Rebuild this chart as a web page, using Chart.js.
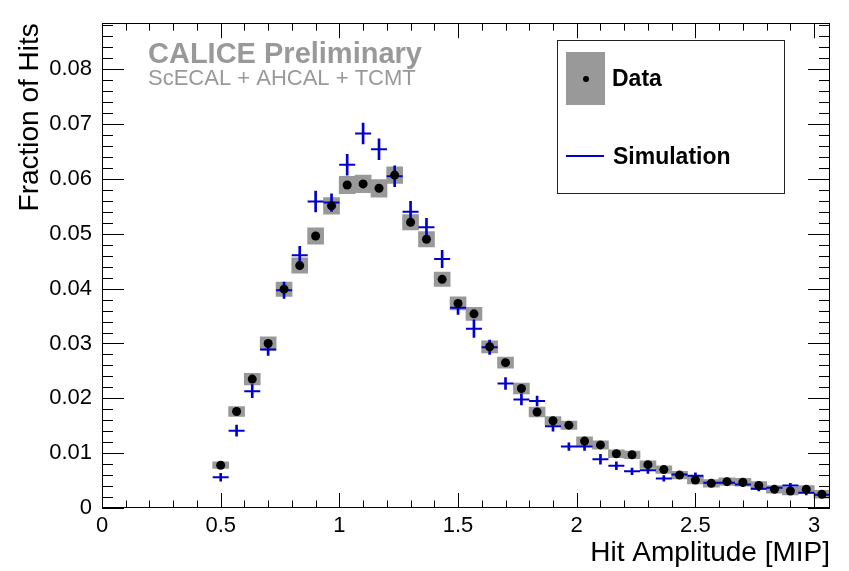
<!DOCTYPE html>
<html>
<head>
<meta charset="utf-8">
<script src="https://cdn.jsdelivr.net/npm/chart.js@4.4.1/dist/chart.umd.min.js"></script>
<style>
  html, body { margin: 0; padding: 0; background: #fff; }
  #wrap { width: 849px; height: 571px; }
</style>
</head>
<body>
<div id="wrap"><canvas id="hitChart" width="849" height="571"></canvas></div>
<script>
// bin centres (MIP), bin width 1/15
const binCenters = [0.5, 0.567, 0.633, 0.7, 0.767, 0.833, 0.9, 0.967, 1.033, 1.1,
  1.167, 1.233, 1.3, 1.367, 1.433, 1.5, 1.567, 1.633, 1.7, 1.767,
  1.833, 1.9, 1.967, 2.033, 2.1, 2.167, 2.233, 2.3, 2.367, 2.433,
  2.5, 2.567, 2.633, 2.7, 2.767, 2.833, 2.9, 2.967, 3.033];

// Data (black points + grey error boxes)
const dataFrac = [0.0078, 0.0176, 0.0235, 0.0300, 0.0399, 0.0442, 0.0496, 0.0551, 0.0589, 0.0591,
  0.0583, 0.0607, 0.0521, 0.0490, 0.0417, 0.0373, 0.0354, 0.0294, 0.0265, 0.0218,
  0.0175, 0.0159, 0.0151, 0.0122, 0.0115, 0.0099, 0.0097, 0.0079, 0.0070, 0.0060,
  0.0051, 0.0045, 0.0048, 0.0047, 0.0041, 0.0034, 0.0031, 0.0034, 0.0025];
const dataErr = [0.0006, 0.0009, 0.00105, 0.0012, 0.0013, 0.0014, 0.0015, 0.0015, 0.0016, 0.0016,
  0.0016, 0.0015, 0.0014, 0.0014, 0.0013, 0.0012, 0.0012, 0.0011, 0.0010, 0.0010,
  0.0009, 0.00075, 0.00075, 0.0008, 0.00075, 0.0007, 0.0007, 0.0007, 0.0007, 0.0007,
  0.0007, 0.0007, 0.0007, 0.0007, 0.0007, 0.0007, 0.0007, 0.0007, 0.0007];

// Simulation (blue crosses)
const simFrac = [0.0056, 0.0141, 0.0213, 0.0289, 0.0397, 0.0461, 0.0559, 0.0557, 0.0626, 0.0683,
  0.0654, 0.0605, 0.0540, 0.0512, 0.0454, 0.0365, 0.0327, 0.0293, 0.0227, 0.0198,
  0.0195, 0.0149, 0.0112, 0.0112, 0.0089, 0.0077, 0.0067, 0.0069, 0.0054, 0.0061,
  0.0059, 0.0046, 0.0046, 0.0043, 0.0035, 0.0037, 0.0041, 0.0028, 0.0024];
const simErr = [0.0007, 0.0010, 0.0012, 0.0011, 0.0015, 0.0016, 0.0019, 0.0016, 0.0019, 0.0019,
  0.0019, 0.0019, 0.0019, 0.0016, 0.0016, 0.0012, 0.0016, 0.0013, 0.0011, 0.0010,
  0.0009, 0.0009, 0.0007, 0.0007, 0.0009, 0.0007, 0.0006, 0.0006, 0.0005, 0.0005,
  0.0005, 0.0004, 0.0004, 0.0004, 0.0004, 0.0004, 0.0004, 0.0004, 0.0004];

const xTickLabels = ['0', '0.5', '1', '1.5', '2', '2.5', '3'];
const yTickLabels = ['0', '0.01', '0.02', '0.03', '0.04', '0.05', '0.06', '0.07', '0.08'];

const FONT = "'Liberation Sans', Arial, Helvetica, sans-serif";
const BLUE = '#0000cc';
const GREY = '#999999';

Chart.defaults.font.family = FONT;
Chart.defaults.color = '#000';

// ROOT style frame: box + inward ticks on all four sides
const rootFrame = {
  id: 'rootFrame',
  afterDatasetsDraw(chart) {
    const { ctx, chartArea: a, scales: { x, y } } = chart;
    ctx.save();
    ctx.strokeStyle = '#000';
    ctx.lineWidth = 1;
    ctx.strokeRect(Math.round(a.left) + 0.5, Math.round(a.top) + 0.5,
      Math.round(a.right - a.left) - 1, Math.round(a.bottom - a.top) - 1);
    ctx.beginPath();
    for (let i = 0; i <= 30; i++) {
      const px = Math.round(x.getPixelForValue(i / 10)) + 0.5;
      const len = i % 5 === 0 ? 15 : 7.5;
      ctx.moveTo(px, a.bottom); ctx.lineTo(px, a.bottom - len);
      ctx.moveTo(px, a.top); ctx.lineTo(px, a.top + len);
    }
    for (let i = 0; i <= 44; i++) {
      const py = Math.round(y.getPixelForValue(i * 0.002)) + 0.5;
      const len = i % 5 === 0 ? 22 : 11;
      ctx.moveTo(a.left, py); ctx.lineTo(a.left + len, py);
      ctx.moveTo(a.right, py); ctx.lineTo(a.right - len, py);
    }
    ctx.stroke();
    ctx.restore();
  }
};

// labels + legend box
const overlay = {
  id: 'overlay',
  afterDraw(chart) {
    const ctx = chart.ctx;
    ctx.save();
    ctx.fillStyle = GREY;
    ctx.textBaseline = 'alphabetic';
    ctx.font = `bold 29px ${FONT}`;
    ctx.fillText('CALICE Preliminary', 148, 63);
    ctx.font = `22px ${FONT}`;
    ctx.fillText('ScECAL + AHCAL + TCMT', 148, 85);

    // legend
    ctx.fillStyle = '#fff';
    ctx.fillRect(557, 40, 227, 153);
    ctx.strokeStyle = '#222';
    ctx.lineWidth = 1;
    ctx.strokeRect(557.5, 40.5, 227, 153);
    ctx.fillStyle = GREY;
    ctx.fillRect(566, 52, 39, 53);
    ctx.fillStyle = '#000';
    ctx.beginPath();
    ctx.arc(586, 79, 3, 0, Math.PI * 2);
    ctx.fill();
    ctx.strokeStyle = BLUE;
    ctx.lineWidth = 2;
    ctx.beginPath();
    ctx.moveTo(566, 156); ctx.lineTo(604, 156);
    ctx.stroke();
    ctx.fillStyle = '#000';
    ctx.font = `bold 23px ${FONT}`;
    ctx.fillText('Data', 612, 86);
    ctx.fillText('Simulation', 613, 164);
    ctx.restore();
  }
};

const dataBoxes = binCenters.map((x, i) => ({ x: x, y: [dataFrac[i] - dataErr[i], dataFrac[i] + dataErr[i]] }));
const dataPts = binCenters.map((x, i) => ({ x: x, y: dataFrac[i] }));
const simBars = binCenters.map((x, i) => ({ x: x, y: [simFrac[i] - simErr[i], simFrac[i] + simErr[i]] }));
const simPts = binCenters.map((x, i) => ({ x: x, y: simFrac[i] }));

new Chart(document.getElementById('hitChart'), {
  type: 'bar',
  data: {
    datasets: [
      { type: 'bar', label: 'Data error', data: dataBoxes, backgroundColor: GREY,
        barThickness: 16, grouped: false, order: 4 },
      { type: 'bar', label: 'Simulation error', data: simBars, backgroundColor: BLUE,
        barThickness: 2, grouped: false, order: 3 },
      { type: 'scatter', label: 'Simulation', data: simPts, pointStyle: 'line',
        pointRadius: 8, borderColor: BLUE, borderWidth: 2, order: 2 },
      { type: 'scatter', label: 'Data', data: dataPts, pointStyle: 'circle',
        pointRadius: 4.5, backgroundColor: '#000', borderWidth: 0, order: 1 }
    ]
  },
  options: {
    responsive: false,
    animation: false,
    events: [],
    layout: { padding: { top: 9, right: 19, left: 0, bottom: 0 } },
    plugins: { legend: { display: false }, tooltip: { enabled: false } },
    scales: {
      x: {
        type: 'linear', min: 0, max: 3.067, offset: false,
        grid: { display: false, drawTicks: false, offset: false }, border: { display: false },
        ticks: { stepSize: 0.5, includeBounds: false, autoSkip: false, maxRotation: 0,
          padding: 5, font: { size: 22 }, color: '#000',
          callback: (v, i) => xTickLabels[i] },
        title: { display: true, text: 'Hit Amplitude [MIP]', align: 'end',
          font: { size: 28 }, color: '#000', padding: { top: 0, bottom: 1 } },
        afterFit: s => { s.height = 63; }
      },
      y: {
        type: 'linear', min: 0, max: 0.0884,
        grid: { display: false, drawTicks: false }, border: { display: false },
        ticks: { stepSize: 0.01, includeBounds: false, padding: 10,
          font: { size: 22 }, color: '#000',
          callback: (v, i) => yTickLabels[i] },
        title: { display: true, text: 'Fraction of Hits', align: 'end',
          font: { size: 28 }, color: '#000', padding: { top: 13, bottom: 0 } },
        afterFit: s => { s.width = 102; }
      }
    }
  },
  plugins: [rootFrame, overlay]
});
</script>
</body>
</html>
